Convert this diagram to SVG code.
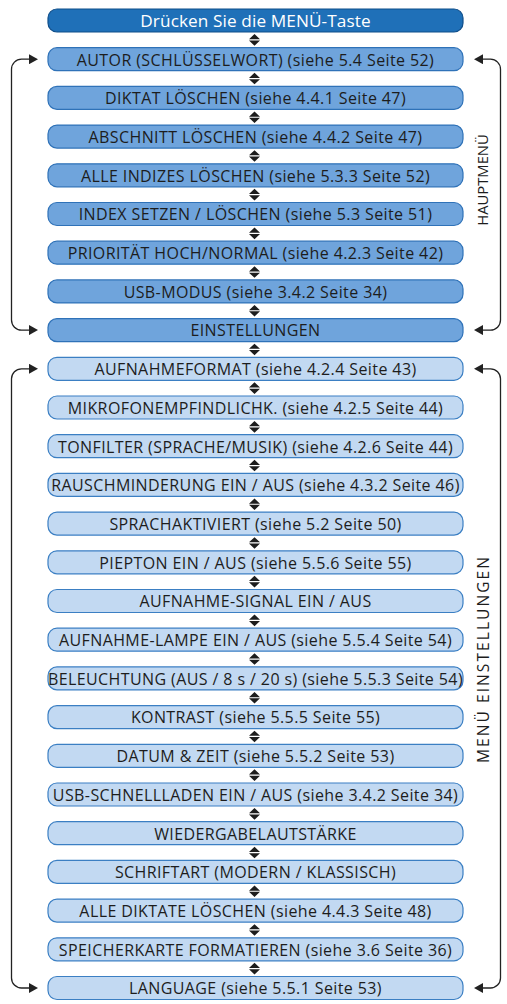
<svg xmlns="http://www.w3.org/2000/svg" width="507" height="1004" viewBox="0 0 507 1004">
<style>
.b rect{stroke-width:1.2}
.top rect{fill:#1f70b8;stroke:#0f4e8a}
.m rect{fill:#6fa4dc;stroke:#2f72b8}
.s rect{fill:#c2d9f2;stroke:#3b7fc3}
text{font-family:"Open Sans","Lato","Liberation Sans",sans-serif;font-size:16px;letter-spacing:0.4px;fill:#1d1d1d;text-anchor:middle}
.top text{fill:#fff;font-size:17.2px;letter-spacing:0.1px}
.side{font-size:15px;letter-spacing:0}
.lp{fill:none;stroke:#222;stroke-width:1.3}
</style>
<defs>
<marker id="ah" viewBox="0 0 9 10" refX="0" refY="5" markerWidth="9" markerHeight="10" markerUnits="userSpaceOnUse" orient="auto-start-reverse"><path d="M0,0 L9,5 L0,10 z" fill="#222"/></marker>
<g id="da"><path d="M249,-0.6 L260,-0.6 L254.5,-5.8 z M249,0.6 L260,0.6 L254.5,5.8 z" fill="#1d1d1d"/></g>
</defs>
<g id="connectors">
<use href="#da" y="39.85"/><use href="#da" y="78.55"/><use href="#da" y="117.25"/><use href="#da" y="155.95"/><use href="#da" y="194.65"/><use href="#da" y="233.35"/><use href="#da" y="272.05"/><use href="#da" y="310.75"/><use href="#da" y="349.45"/><use href="#da" y="388.15"/><use href="#da" y="426.85"/><use href="#da" y="465.55"/><use href="#da" y="504.25"/><use href="#da" y="542.95"/><use href="#da" y="581.65"/><use href="#da" y="620.35"/><use href="#da" y="659.05"/><use href="#da" y="697.75"/><use href="#da" y="736.45"/><use href="#da" y="775.15"/><use href="#da" y="813.85"/><use href="#da" y="852.55"/><use href="#da" y="891.25"/><use href="#da" y="929.95"/><use href="#da" y="968.65"/>
<path class="lp" d="M29,59.2 H21.5 A10,10 0 0 0 11.5,69.2 V320.1 A10,10 0 0 0 21.5,330.1 H29" marker-start="url(#ah)" marker-end="url(#ah)"/>
<path class="lp" d="M483,59.2 H490.5 A10,10 0 0 1 500.5,69.2 V320.1 A10,10 0 0 1 490.5,330.1 H483" marker-start="url(#ah)" marker-end="url(#ah)"/>
<path class="lp" d="M29,368.8 H21.5 A10,10 0 0 0 11.5,378.8 V978 A10,10 0 0 0 21.5,988 H29" marker-start="url(#ah)" marker-end="url(#ah)"/>
<path class="lp" d="M483,368.8 H490.5 A10,10 0 0 1 500.5,378.8 V978 A10,10 0 0 1 490.5,988 H483" marker-start="url(#ah)" marker-end="url(#ah)"/>
</g>
<g id="n0" class="b top" transform="translate(0,20.5)"><rect x="48" y="-11.5" width="415" height="23" rx="9"/><text x="255.5" y="6.8">Drücken Sie die MENÜ-Taste</text></g>
<g id="n1" class="b m" transform="translate(0,59.2)"><rect x="48" y="-11.5" width="415" height="23" rx="9"/><text x="255.5" y="6.3">AUTOR (SCHLÜSSELWORT) (siehe 5.4 Seite 52)</text></g>
<g id="n2" class="b m" transform="translate(0,97.9)"><rect x="48" y="-11.5" width="415" height="23" rx="9"/><text x="255.5" y="6.3">DIKTAT LÖSCHEN (siehe 4.4.1 Seite 47)</text></g>
<g id="n3" class="b m" transform="translate(0,136.6)"><rect x="48" y="-11.5" width="415" height="23" rx="9"/><text x="255.5" y="6.3">ABSCHNITT LÖSCHEN (siehe 4.4.2 Seite 47)</text></g>
<g id="n4" class="b m" transform="translate(0,175.3)"><rect x="48" y="-11.5" width="415" height="23" rx="9"/><text x="255.5" y="6.3">ALLE INDIZES LÖSCHEN (siehe 5.3.3 Seite 52)</text></g>
<g id="n5" class="b m" transform="translate(0,214)"><rect x="48" y="-11.5" width="415" height="23" rx="9"/><text x="255.5" y="6.3">INDEX SETZEN / LÖSCHEN (siehe 5.3 Seite 51)</text></g>
<g id="n6" class="b m" transform="translate(0,252.7)"><rect x="48" y="-11.5" width="415" height="23" rx="9"/><text x="255.5" y="6.3">PRIORITÄT HOCH/NORMAL (siehe 4.2.3 Seite 42)</text></g>
<g id="n7" class="b m" transform="translate(0,291.4)"><rect x="48" y="-11.5" width="415" height="23" rx="9"/><text x="255.5" y="6.3">USB-MODUS (siehe 3.4.2 Seite 34)</text></g>
<g id="n8" class="b m" transform="translate(0,330.1)"><rect x="48" y="-11.5" width="415" height="23" rx="9"/><text x="255.5" y="6.3">EINSTELLUNGEN</text></g>
<g id="n9" class="b s" transform="translate(0,368.8)"><rect x="48" y="-11.5" width="415" height="23" rx="9"/><text x="255.5" y="6.3">AUFNAHMEFORMAT (siehe 4.2.4 Seite 43)</text></g>
<g id="n10" class="b s" transform="translate(0,407.5)"><rect x="48" y="-11.5" width="415" height="23" rx="9"/><text x="255.5" y="6.3">MIKROFONEMPFINDLICHK. (siehe 4.2.5 Seite 44)</text></g>
<g id="n11" class="b s" transform="translate(0,446.2)"><rect x="48" y="-11.5" width="415" height="23" rx="9"/><text x="255.5" y="6.3">TONFILTER (SPRACHE/MUSIK) (siehe 4.2.6 Seite 44)</text></g>
<g id="n12" class="b s" transform="translate(0,484.9)"><rect x="48" y="-11.5" width="415" height="23" rx="9"/><text x="255.5" y="6.3">RAUSCHMINDERUNG EIN / AUS (siehe 4.3.2 Seite 46)</text></g>
<g id="n13" class="b s" transform="translate(0,523.6)"><rect x="48" y="-11.5" width="415" height="23" rx="9"/><text x="255.5" y="6.3">SPRACHAKTIVIERT (siehe 5.2 Seite 50)</text></g>
<g id="n14" class="b s" transform="translate(0,562.3)"><rect x="48" y="-11.5" width="415" height="23" rx="9"/><text x="255.5" y="6.3">PIEPTON EIN / AUS (siehe 5.5.6 Seite 55)</text></g>
<g id="n15" class="b s" transform="translate(0,601)"><rect x="48" y="-11.5" width="415" height="23" rx="9"/><text x="255.5" y="6.3">AUFNAHME-SIGNAL EIN / AUS</text></g>
<g id="n16" class="b s" transform="translate(0,639.7)"><rect x="48" y="-11.5" width="415" height="23" rx="9"/><text x="255.5" y="6.3">AUFNAHME-LAMPE EIN / AUS (siehe 5.5.4 Seite 54)</text></g>
<g id="n17" class="b s" transform="translate(0,678.4)"><rect x="48" y="-11.5" width="415" height="23" rx="9"/><text x="255.5" y="6.3">BELEUCHTUNG (AUS / 8 s / 20 s) (siehe 5.5.3 Seite 54)</text></g>
<g id="n18" class="b s" transform="translate(0,717.1)"><rect x="48" y="-11.5" width="415" height="23" rx="9"/><text x="255.5" y="6.3">KONTRAST (siehe 5.5.5 Seite 55)</text></g>
<g id="n19" class="b s" transform="translate(0,755.8)"><rect x="48" y="-11.5" width="415" height="23" rx="9"/><text x="255.5" y="6.3">DATUM &amp; ZEIT (siehe 5.5.2 Seite 53)</text></g>
<g id="n20" class="b s" transform="translate(0,794.5)"><rect x="48" y="-11.5" width="415" height="23" rx="9"/><text x="255.5" y="6.3">USB-SCHNELLLADEN EIN / AUS (siehe 3.4.2 Seite 34)</text></g>
<g id="n21" class="b s" transform="translate(0,833.2)"><rect x="48" y="-11.5" width="415" height="23" rx="9"/><text x="255.5" y="6.3">WIEDERGABELAUTSTÄRKE</text></g>
<g id="n22" class="b s" transform="translate(0,871.9)"><rect x="48" y="-11.5" width="415" height="23" rx="9"/><text x="255.5" y="6.3">SCHRIFTART (MODERN / KLASSISCH)</text></g>
<g id="n23" class="b s" transform="translate(0,910.6)"><rect x="48" y="-11.5" width="415" height="23" rx="9"/><text x="255.5" y="6.3">ALLE DIKTATE LÖSCHEN (siehe 4.4.3 Seite 48)</text></g>
<g id="n24" class="b s" transform="translate(0,949.3)"><rect x="48" y="-11.5" width="415" height="23" rx="9"/><text x="255.5" y="6.3">SPEICHERKARTE FORMATIEREN (siehe 3.6 Seite 36)</text></g>
<g id="n25" class="b s" transform="translate(0,988)"><rect x="48" y="-11.5" width="415" height="23" rx="9"/><text x="255.5" y="6.3">LANGUAGE (siehe 5.5.1 Seite 53)</text></g>
<g id="labels">
<text class="side" transform="translate(488,180) rotate(-90)" style="font-size:14.8px">HAUPTMENÜ</text>
<text class="side" transform="translate(489,660) rotate(-90)" style="font-size:15.5px" textLength="206" lengthAdjust="spacing">MENÜ EINSTELLUNGEN</text>
</g>
</svg>
